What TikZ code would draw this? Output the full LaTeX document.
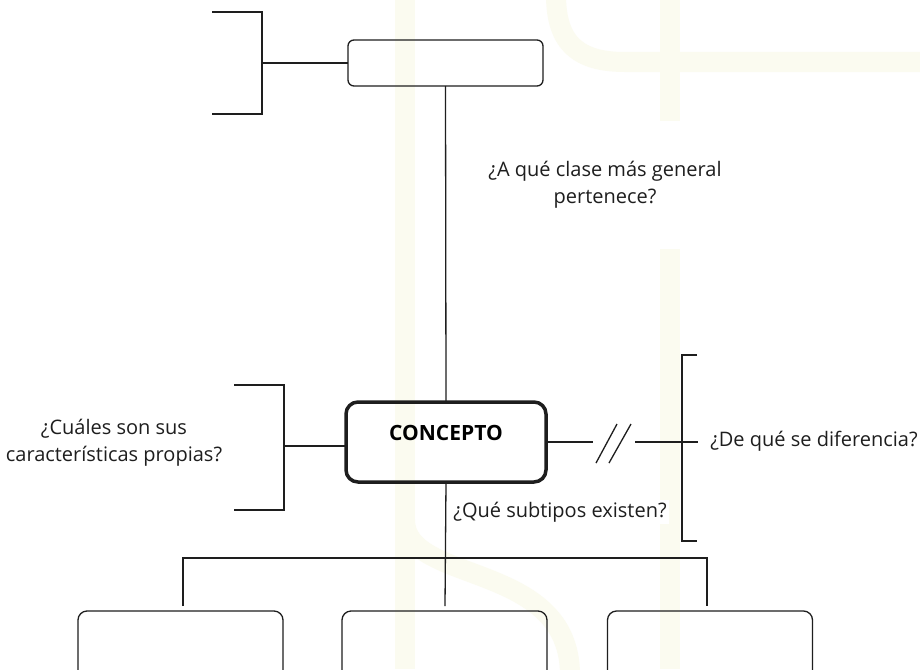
\documentclass[tikz,border=0pt]{standalone}
\usepackage{fontspec}
\setmainfont{Open Sans}
\definecolor{wm}{RGB}{251,251,240}
\definecolor{ink}{RGB}{30,30,30}
\tikzset{
  wmband/.style={wm, line width=20pt},
  thin/.style={ink, line width=1.3pt},
  brk/.style={ink, line width=1.6pt},
  smallbox/.style={draw=ink, line width=1.3pt, rounded corners=6pt, minimum width=195pt, minimum height=46pt, inner sep=0pt, outer sep=0pt},
  leafbox/.style={draw=ink, line width=1.3pt, rounded corners=9pt, minimum width=205pt, minimum height=100pt, inner sep=0pt, outer sep=0pt},
  conceptbox/.style={draw=ink, line width=3.5pt, rounded corners=12pt, minimum width=200pt, inner sep=0pt, outer sep=0pt,
     text height=38pt, text depth=42pt, font=\fontsize{21}{24}\selectfont\bfseries},
  question/.style={fill=white, inner sep=2pt, align=center, font=\fontsize{20}{27}\selectfont, text=ink}
}
\begin{document}
\begin{tikzpicture}[x=1pt,y=-1pt]
\clip (0,0) rectangle (920,669);
\fill[white] (0,0) rectangle (920,669);
% faint watermark
\draw[wmband] (405,0) -- (405,669);
\draw[wmband] (670,0) -- (670,669);
\draw[wmband] (556,-5) .. controls (556,45) and (580,62) .. (625,62) -- (925,62);
\draw[wmband] (405,520) .. controls (405,585) and (570,560) .. (570,675);
% nodes
\node[smallbox] (top) at (445.5,63) {};
\node[conceptbox] (c) at (446,442) {CONCEPTO};
\node[leafbox] (l1) at (180.5,661) {};
\node[leafbox] (l2) at (444.5,661) {};
\node[leafbox] (l3) at (710,661) {};
\node[question, inner ysep=40pt] (qa) at (605,185) {¿A qué clase más general\\pertenece?};
\node[question] (qc) at (114,443) {¿Cuáles son sus\\características propias?};
\node[question] (qd) at (814,441) {¿De qué se diferencia?};
\node[question] (qs) at (560,512) {¿Qué subtipos existen?};
% top bracket
\coordinate (tbT) at (212,12);
\coordinate (tbB) at (212,114);
\coordinate (tbM) at (262,63);
\draw[brk] (tbT) -- (tbT -| tbM) -- (tbB -| tbM) -- (tbB);
\draw[thin] (tbM) -- (top.west);
% top to concept
\draw[thin] (top.south) -- (c.north);
% left bracket
\coordinate (lbT) at (234,385);
\coordinate (lbB) at (234,510);
\coordinate (lbM) at (284,446);
\draw[brk] (lbT) -- (lbT -| lbM) -- (lbB -| lbM) -- (lbB);
\draw[thin] (lbM) -- (lbM -| c.west);
% right connector with break
\coordinate (s1) at (593,442);
\coordinate (s2) at (635,442);
\coordinate (rbM) at (698,442);
\draw[thin] (c.east) -- (s1);
\draw[thin] (s2) -- (rbM);
\draw[thin] (596,463) -- (617,424);
\draw[thin] (609,463) -- (631,424);
% right bracket
\coordinate (rbT) at (697,355);
\coordinate (rbB) at (697,541);
\coordinate (rbX) at (682,442);
\draw[brk] (rbT) -- (rbT -| rbX) -- (rbB -| rbX) -- (rbB);
% subtypes
\coordinate (bar) at (445,558);
\coordinate (d1) at (183,606);
\coordinate (d2) at (445,606);
\coordinate (d3) at (707,606);
\draw[thin] (c.south) -- (d2);
\draw[brk] (d1) -- (d1 |- bar) -- (d3 |- bar) -- (d3);
\end{tikzpicture}
\end{document}
